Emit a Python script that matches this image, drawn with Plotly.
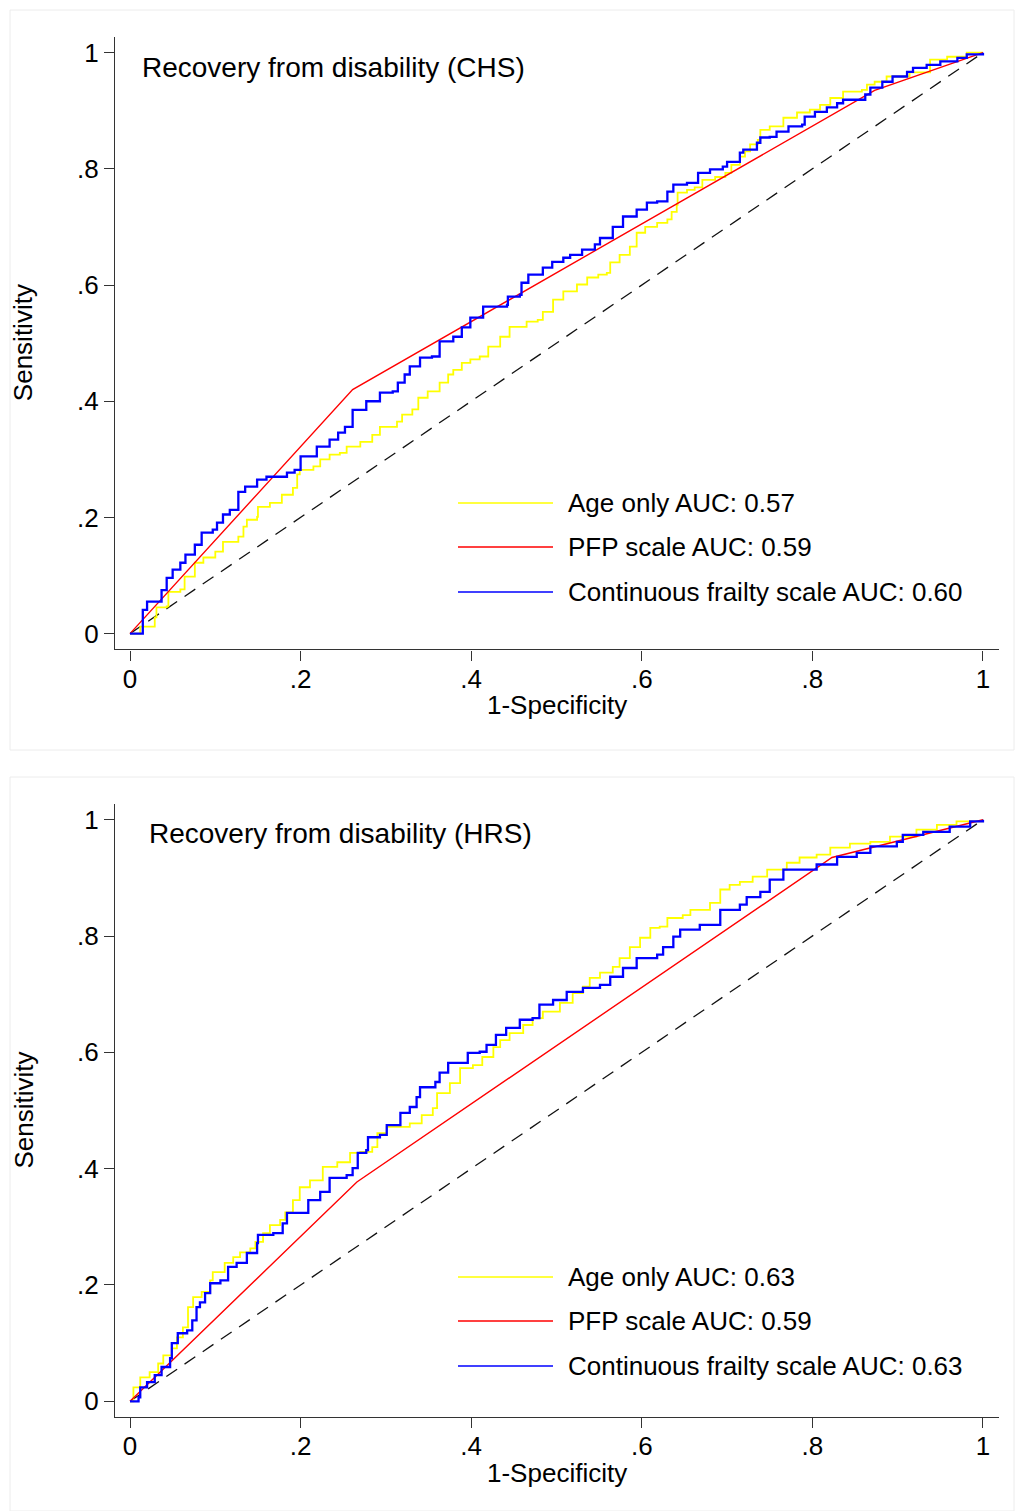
import plotly.graph_objects as go

# ---- ROC data: (1-specificity, sensitivity) ----
# CHS cohort
chs_age_x = [0, 0.012, 0.029, 0.031, 0.043, 0.045, 0.059, 0.064, 0.076, 0.086, 0.1, 0.109, 0.127, 0.133, 0.137,
             0.149, 0.15, 0.164, 0.178, 0.191, 0.196, 0.199, 0.215, 0.223, 0.234, 0.246, 0.254, 0.27,
             0.284, 0.293, 0.313, 0.319, 0.331, 0.338, 0.349, 0.363, 0.373, 0.379, 0.389, 0.399, 0.41,
             0.42, 0.434, 0.445, 0.465, 0.478, 0.484, 0.496, 0.508, 0.524, 0.536, 0.549, 0.559, 0.563,
             0.574, 0.586, 0.594, 0.604, 0.618, 0.63, 0.635, 0.641, 0.642, 0.653, 0.662, 0.671, 0.686,
             0.698, 0.705, 0.715, 0.721, 0.727, 0.736, 0.739, 0.75, 0.762, 0.766, 0.782, 0.797, 0.809,
             0.821, 0.836, 0.858, 0.864, 0.873, 0.887, 0.914, 0.938, 0.958, 0.981, 1.0]
chs_age_y = [0, 0.012, 0.028, 0.045, 0.047, 0.072, 0.076, 0.098, 0.122, 0.131, 0.141, 0.158, 0.167, 0.184, 0.196,
             0.201, 0.218, 0.225, 0.239, 0.251, 0.274, 0.282, 0.288, 0.3, 0.308, 0.311, 0.322, 0.33,
             0.342, 0.356, 0.365, 0.377, 0.386, 0.406, 0.417, 0.432, 0.446, 0.454, 0.466, 0.472, 0.477,
             0.494, 0.511, 0.528, 0.537, 0.54, 0.554, 0.575, 0.589, 0.601, 0.613, 0.618, 0.621, 0.639,
             0.652, 0.666, 0.69, 0.7, 0.707, 0.713, 0.726, 0.738, 0.759, 0.764, 0.768, 0.781, 0.786,
             0.793, 0.807, 0.821, 0.83, 0.842, 0.85, 0.867, 0.873, 0.873, 0.888, 0.897, 0.902, 0.91,
             0.922, 0.933, 0.936, 0.945, 0.95, 0.959, 0.966, 0.988, 0.993, 1.0, 1.0]

chs_pfp_x = [0, 0.261, 0.873, 1.0]
chs_pfp_y = [0, 0.42, 0.935, 1.0]

chs_cont_x = [0, 0.015, 0.015, 0.02, 0.037, 0.037, 0.043, 0.05, 0.059, 0.065, 0.076, 0.084, 0.097, 0.102,
              0.109, 0.117, 0.127, 0.127, 0.135, 0.149, 0.16, 0.184, 0.193, 0.2, 0.219, 0.234, 0.244,
              0.252, 0.261, 0.277, 0.293, 0.308, 0.314, 0.322, 0.328, 0.34, 0.354, 0.363, 0.379, 0.389,
              0.399, 0.414, 0.442, 0.443, 0.457, 0.459, 0.467, 0.484, 0.495, 0.508, 0.516, 0.53, 0.545,
              0.551, 0.566, 0.578, 0.594, 0.606, 0.618, 0.63, 0.637, 0.653, 0.666, 0.68, 0.695, 0.7,
              0.715, 0.719, 0.735, 0.739, 0.75, 0.758, 0.772, 0.788, 0.791, 0.803, 0.817, 0.829, 0.836,
              0.85, 0.862, 0.868, 0.882, 0.894, 0.911, 0.918, 0.934, 0.95, 0.97, 0.981, 1.0]
chs_cont_y = [0, 0.015, 0.041, 0.055, 0.062, 0.075, 0.096, 0.11, 0.122, 0.136, 0.153, 0.174, 0.179, 0.191,
              0.205, 0.213, 0.213, 0.244, 0.253, 0.265, 0.27, 0.277, 0.282, 0.305, 0.322, 0.334, 0.346,
              0.356, 0.385, 0.4, 0.415, 0.417, 0.432, 0.446, 0.46, 0.475, 0.477, 0.503, 0.511, 0.527,
              0.544, 0.563, 0.566, 0.58, 0.583, 0.604, 0.618, 0.63, 0.64, 0.647, 0.652, 0.661, 0.67,
              0.681, 0.7, 0.718, 0.73, 0.742, 0.744, 0.761, 0.773, 0.776, 0.793, 0.799, 0.804, 0.812,
              0.828, 0.833, 0.845, 0.854, 0.855, 0.864, 0.873, 0.876, 0.89, 0.898, 0.906, 0.913, 0.919,
              0.919, 0.928, 0.94, 0.95, 0.959, 0.967, 0.974, 0.979, 0.985, 0.991, 0.997, 1.0]

# HRS cohort
hrs_age_x = [0, 0.004, 0.012, 0.023, 0.033, 0.039, 0.049, 0.055, 0.062, 0.068, 0.074, 0.084, 0.094, 0.097,
             0.111, 0.121, 0.129, 0.141, 0.147, 0.156, 0.164, 0.176, 0.182, 0.191, 0.199, 0.211, 0.226,
             0.243, 0.258, 0.27, 0.284, 0.29, 0.301, 0.328, 0.342, 0.355, 0.36, 0.375, 0.387, 0.387,
             0.402, 0.413, 0.426, 0.434, 0.445, 0.461, 0.472, 0.484, 0.504, 0.519, 0.531, 0.539, 0.551,
             0.566, 0.574, 0.586, 0.598, 0.61, 0.621, 0.63, 0.648, 0.657, 0.672, 0.68, 0.692, 0.703,
             0.715, 0.73, 0.747, 0.77, 0.785, 0.805, 0.821, 0.844, 0.868, 0.891, 0.922, 0.946, 0.969, 1.0]
hrs_age_y = [0, 0.024, 0.041, 0.05, 0.065, 0.079, 0.091, 0.11, 0.127, 0.162, 0.179, 0.188, 0.208, 0.222,
             0.238, 0.248, 0.256, 0.263, 0.274, 0.289, 0.303, 0.312, 0.325, 0.346, 0.368, 0.38, 0.403,
             0.411, 0.427, 0.429, 0.437, 0.461, 0.472, 0.478, 0.492, 0.504, 0.53, 0.547, 0.565, 0.573,
             0.578, 0.592, 0.609, 0.621, 0.633, 0.647, 0.659, 0.67, 0.685, 0.702, 0.713, 0.728, 0.737,
             0.747, 0.762, 0.781, 0.797, 0.814, 0.816, 0.831, 0.836, 0.845, 0.845, 0.857, 0.88, 0.888,
             0.893, 0.902, 0.914, 0.926, 0.935, 0.94, 0.952, 0.959, 0.962, 0.971, 0.983, 0.991, 0.997, 1.0]

hrs_pfp_x = [0, 0.266, 0.823, 1.0]
hrs_pfp_y = [0, 0.377, 0.935, 1.0]

hrs_cont_x = [0, 0.01, 0.012, 0.02, 0.029, 0.037, 0.047, 0.049, 0.056, 0.067, 0.073, 0.078, 0.082, 0.088,
              0.094, 0.106, 0.115, 0.125, 0.137, 0.149, 0.15, 0.168, 0.179, 0.184, 0.203, 0.209, 0.223,
              0.234, 0.254, 0.261, 0.267, 0.277, 0.279, 0.293, 0.301, 0.317, 0.328, 0.336, 0.34, 0.358,
              0.363, 0.373, 0.387, 0.396, 0.41, 0.418, 0.429, 0.441, 0.457, 0.472, 0.48, 0.496, 0.512,
              0.531, 0.551, 0.563, 0.578, 0.594, 0.618, 0.625, 0.637, 0.645, 0.668, 0.692, 0.715, 0.723,
              0.739, 0.75, 0.766, 0.805, 0.829, 0.852, 0.868, 0.899, 0.906, 0.93, 0.961, 0.985, 1.0]
hrs_cont_y = [0, 0.007, 0.024, 0.033, 0.045, 0.059, 0.074, 0.1, 0.117, 0.122, 0.139, 0.162, 0.17, 0.186,
              0.203, 0.208, 0.231, 0.238, 0.255, 0.272, 0.286, 0.289, 0.306, 0.324, 0.324, 0.346, 0.36,
              0.384, 0.389, 0.401, 0.427, 0.432, 0.454, 0.458, 0.475, 0.496, 0.506, 0.523, 0.54, 0.549,
              0.565, 0.582, 0.582, 0.599, 0.601, 0.613, 0.63, 0.642, 0.656, 0.659, 0.682, 0.69, 0.704,
              0.711, 0.716, 0.73, 0.745, 0.762, 0.768, 0.781, 0.799, 0.811, 0.819, 0.845, 0.854, 0.867,
              0.876, 0.897, 0.914, 0.923, 0.936, 0.943, 0.954, 0.962, 0.974, 0.979, 0.988, 0.997, 1.0]

panel_titles = ["Recovery from disability (CHS)", "Recovery from disability (HRS)"]
legend_labels = [
    ["Age only AUC: 0.57", "PFP scale AUC: 0.59", "Continuous frailty scale AUC: 0.60"],
    ["Age only AUC: 0.63", "PFP scale AUC: 0.59", "Continuous frailty scale AUC: 0.63"],
]
tick_vals = [0, 0.2, 0.4, 0.6, 0.8, 1]
tick_text = ["0", ".2", ".4", ".6", ".8", "1"]

colors = ["#ffff00", "#ff0000", "#0000ff"]
widths = [1.8, 1.4, 2.3]

W, H = 1015, 1511
FONT = "Liberation Sans, Arial, sans-serif"


def px_x(p):
    return p / W


def px_y(p):
    return 1 - p / H


fig = go.Figure()

panels = [
    dict(xa="x", ya="y", data=[(chs_age_x, chs_age_y), (chs_pfp_x, chs_pfp_y), (chs_cont_x, chs_cont_y)],
         top=37.0, bottom=649.3, box=(10, 10, 1014, 750), title_xy=(140, 68), leg_y=[503, 547, 592]),
    dict(xa="x2", ya="y2", data=[(hrs_age_x, hrs_age_y), (hrs_pfp_x, hrs_pfp_y), (hrs_cont_x, hrs_cont_y)],
         top=804.0, bottom=1417.0, box=(10, 777, 1014, 1511), title_xy=(147, 833), leg_y=[1277, 1321, 1366]),
]

shapes = []
annotations = []

for i, p in enumerate(panels):
    # reference diagonal
    fig.add_trace(go.Scatter(x=[0, 1], y=[0, 1], mode="lines", xaxis=p["xa"], yaxis=p["ya"],
                             line=dict(color="#111111", width=1.3, dash="13px,9px"),
                             showlegend=False, hoverinfo="skip"))
    for k, (xs, ys) in enumerate(p["data"]):
        fig.add_trace(go.Scatter(x=xs, y=ys, mode="lines", xaxis=p["xa"], yaxis=p["ya"],
                                 line=dict(color=colors[k], width=widths[k],
                                           shape="linear" if k == 1 else "hv"),
                                 name=legend_labels[i][k], showlegend=False))

    # panel frame
    x0, y0, x1, y1 = p["box"]
    shapes.append(dict(type="rect", xref="paper", yref="paper",
                       x0=px_x(x0), x1=px_x(x1), y0=px_y(y1), y1=px_y(y0),
                       line=dict(color="#ececec", width=1), layer="below"))

    # legend keys and labels
    for k, ly in enumerate(p["leg_y"]):
        shapes.append(dict(type="line", xref="paper", yref="paper",
                           x0=px_x(458), x1=px_x(553), y0=px_y(ly), y1=px_y(ly),
                           line=dict(color=colors[k], width=1.5)))
        annotations.append(dict(xref="paper", yref="paper", x=px_x(566), y=px_y(ly),
                                xanchor="left", yanchor="middle", showarrow=False,
                                text=legend_labels[i][k], font=dict(size=26, color="black", family=FONT)))

    # panel title
    tx, ty = p["title_xy"]
    annotations.append(dict(xref="paper", yref="paper", x=px_x(tx), y=px_y(ty),
                            xanchor="left", yanchor="middle", showarrow=False,
                            text=panel_titles[i], font=dict(size=28, color="black", family=FONT)))

    # axis titles
    annotations.append(dict(xref="paper", yref="paper", x=px_x(557), y=px_y(p["bottom"] + 56),
                            xanchor="center", yanchor="middle", showarrow=False,
                            text="1-Specificity", font=dict(size=26, color="black", family=FONT)))
    annotations.append(dict(xref="paper", yref="paper", x=px_x(23), y=px_y((p["top"] + p["bottom"]) / 2),
                            xanchor="center", yanchor="middle", showarrow=False, textangle=-90,
                            text="Sensitivity", font=dict(size=26, color="black", family=FONT)))

axis_common = dict(showgrid=False, zeroline=False, showline=True, linecolor="#333333", linewidth=1.4,
                   ticks="outside", ticklen=10, tickwidth=1.4, tickcolor="#333333",
                   tickvals=tick_vals, ticktext=tick_text,
                   tickfont=dict(size=26, color="black", family=FONT))

x_dom = [115 / W, 999 / W]
x_rng = [-0.0176, 1.0188]
y_rng = [-0.027, 1.027]

fig.update_layout(
    width=W, height=H,
    margin=dict(l=0, r=0, t=0, b=0),
    paper_bgcolor="white", plot_bgcolor="white",
    font=dict(family=FONT, color="black"),
    xaxis=dict(domain=x_dom, range=x_rng, anchor="y", ticklabelstandoff=-4, **axis_common),
    yaxis=dict(domain=[px_y(panels[0]["bottom"]), px_y(panels[0]["top"])], range=y_rng, anchor="x",
               **axis_common),
    xaxis2=dict(domain=x_dom, range=x_rng, anchor="y2", ticklabelstandoff=-4, **axis_common),
    yaxis2=dict(domain=[px_y(panels[1]["bottom"]), px_y(panels[1]["top"])], range=y_rng, anchor="x2",
                **axis_common),
    shapes=shapes,
    annotations=annotations,
    showlegend=False,
)

fig.write_html("out.html")
